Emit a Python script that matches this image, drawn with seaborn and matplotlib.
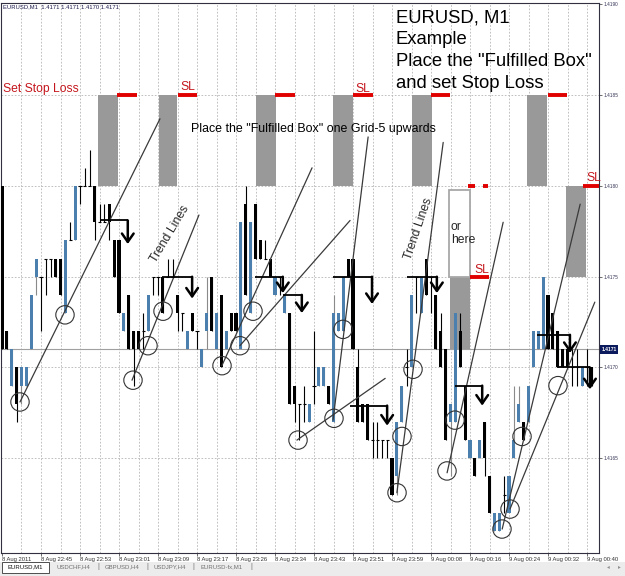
import numpy as np
import matplotlib
matplotlib.use("Agg")
import matplotlib.pyplot as plt
import matplotlib.transforms as mtransforms
from matplotlib.patches import Rectangle
import seaborn as sns

# EURUSD M1 candles, prices in points (price * 10000)
opens = [14180, 14172, 14169, 14170, 14169, 14169, 14171, 14175, 14175, 14176,
         14176, 14176, 14176, 14173, 14177, 14177, 14180, 14180, 14180, 14180,
         14178, 14178, 14179, 14177, 14177, 14172, 14174, 14172, 14172, 14172,
         14172, 14175, 14175, 14175, 14175, 14175, 14174, 14173, 14171, 14173,
         14172, 14170, 14172, 14175, 14171, 14174, 14171, 14173, 14173, 14171,
         14179, 14173, 14179, 14177, 14176, 14176, 14174, 14175, 14173, 14173,
         14169, 14168, 14168, 14167, 14169, 14169, 14169, 14169, 14167, 14172,
         14172, 14176, 14176, 14170, 14168, 14168, 14166, 14166, 14166, 14166,
         14165, 14164, 14167, 14170, 14170, 14175, 14173, 14176, 14175, 14174,
         14172, 14171, 14167, 14167, 14172, 14169, 14165, 14165, 14165, 14167,
         14164, 14161, 14161, 14163, 14162, 14165, 14167, 14167, 14167, 14170,
         14171, 14171, 14174, 14173, 14172, 14171, 14171, 14170, 14170, 14169,
         14170, 14170]
closes = [14171, 14171, 14171, 14168, 14170, 14170, 14174, 14176, 14175, 14176,
          14176, 14175, 14174, 14177, 14177, 14180, 14180, 14180, 14180, 14178,
          14178, 14178, 14178, 14175, 14173, 14173, 14171, 14171, 14171, 14172,
          14174, 14175, 14175, 14173, 14175, 14175, 14173, 14173, 14172, 14172,
          14172, 14171, 14173, 14172, 14173, 14170, 14172, 14172, 14172, 14178,
          14174, 14178, 14176, 14176, 14176, 14175, 14175, 14175, 14174, 14168,
          14168, 14168, 14168, 14168, 14169, 14170, 14170, 14168, 14173, 14173,
          14175, 14175, 14171, 14167, 14167, 14166, 14166, 14166, 14166, 14166,
          14163, 14167, 14169, 14170, 14174, 14175, 14175, 14174, 14175, 14171,
          14170, 14166, 14168, 14173, 14170, 14166, 14166, 14164, 14166, 14165,
          14162, 14162, 14162, 14163, 14164, 14166, 14168, 14166, 14169, 14172,
          14172, 14175, 14171, 14171, 14170, 14170, 14170, 14170, 14170, 14170,
          14170, 14169]
highs = [14180, 14172, 14171, 14170, 14170, 14170, 14174, 14176, 14175, 14176,
         14176, 14176, 14176, 14177, 14178, 14180, 14180, 14181, 14182, 14180,
         14179, 14179, 14179, 14177, 14177, 14173, 14174, 14172, 14172, 14173,
         14174, 14175, 14175, 14175, 14176, 14176, 14174, 14173, 14172, 14173,
         14172, 14171, 14175, 14175, 14173, 14174, 14172, 14173, 14173, 14178,
         14180, 14178, 14179, 14177, 14177, 14176, 14175, 14175, 14174, 14173,
         14169, 14168, 14169, 14168, 14172, 14170, 14170, 14169, 14174, 14173,
         14175, 14176, 14176, 14171, 14168, 14168, 14167, 14167, 14166, 14166,
         14165, 14167, 14169, 14171, 14174, 14175, 14175, 14176, 14175, 14174,
         14173, 14171, 14168, 14173, 14173, 14169, 14166, 14165, 14166, 14167,
         14164, 14162, 14162, 14164, 14164, 14169, 14169, 14167, 14169, 14172,
         14172, 14175, 14174, 14173, 14172, 14171, 14171, 14171, 14171, 14170,
         14171, 14170]
lows = [14171, 14171, 14169, 14167, 14168, 14169, 14171, 14174, 14172, 14174,
        14175, 14175, 14174, 14173, 14177, 14177, 14179, 14180, 14180, 14177,
        14178, 14178, 14177, 14175, 14173, 14172, 14171, 14169, 14171, 14171,
        14172, 14174, 14174, 14173, 14175, 14175, 14172, 14172, 14171, 14172,
        14171, 14170, 14171, 14172, 14171, 14170, 14171, 14172, 14172, 14171,
        14174, 14173, 14176, 14176, 14176, 14175, 14174, 14174, 14173, 14168,
        14167, 14166, 14167, 14167, 14168, 14169, 14169, 14168, 14167, 14172,
        14172, 14175, 14171, 14167, 14167, 14166, 14165, 14165, 14165, 14165,
        14163, 14163, 14167, 14169, 14170, 14173, 14173, 14174, 14173, 14171,
        14170, 14166, 14164, 14167, 14170, 14166, 14165, 14164, 14165, 14164,
        14162, 14161, 14161, 14162, 14162, 14165, 14167, 14166, 14167, 14170,
        14171, 14171, 14171, 14171, 14170, 14170, 14170, 14169, 14169, 14169,
        14169, 14169]

bid = 1.4171
price_ticks = [1.4165, 1.4170, 1.4175, 1.4180, 1.4185, 1.4190]
time_labels = ["8 Aug 2011", "8 Aug 22:45", "8 Aug 22:53", "8 Aug 23:01",
               "8 Aug 23:09", "8 Aug 23:17", "8 Aug 23:26", "8 Aug 23:34",
               "8 Aug 23:43", "8 Aug 23:51", "8 Aug 23:59", "9 Aug 00:08",
               "9 Aug 00:16", "9 Aug 00:24", "9 Aug 00:32", "9 Aug 00:40"]
tabs = ["EURUSD,M1", "USDCHF,H4", "GBPUSD,H4", "USDJPY,H4", "EURUSD-fx,M1"]

# annotations drawn on the chart (bar index, price)
boxes = [(19.7, 23.8, 1.4180, 1.4185), (32.2, 35.9, 1.4180, 1.4185),
         (52.1, 56.2, 1.4180, 1.4185), (67.9, 72.0, 1.4180, 1.4185),
         (84.1, 88.2, 1.4180, 1.4185), (107.7, 111.8, 1.4180, 1.4185),
         (115.7, 119.8, 1.4175, 1.4180), (91.9, 96.0, 1.4171, 1.4175)]
alt_box = (91.7, 96.0, 1.4175, 1.41798)
stop_losses = [(23.6, 27.6, 1.4185), (36.0, 40.0, 1.4185), (56.0, 60.0, 1.4185),
               (72.0, 76.0, 1.4185), (88.0, 91.8, 1.4185), (112.0, 115.8, 1.4185),
               (95.6, 97.0, 1.4180), (98.6, 99.7, 1.4180), (119.2, 122.4, 1.4180),
               (96.0, 99.8, 1.4175)]
trend_lines = [((3.69, 1.41681), (32.4, 1.41837)), ((26.67, 1.41693), (40.4, 1.41784)),
               ((45.1, 1.41701), (63.6, 1.41810)), ((48.8, 1.41712), (71.4, 1.41781)),
               ((67.9, 1.41671), (75.1, 1.41827)), ((60.5, 1.41660), (78.6, 1.41694)),
               ((81.0, 1.41631), (90.5, 1.41824)), ((91.3, 1.41642), (102.8, 1.41780)),
               ((102.6, 1.41611), (118.6, 1.41790)), ((104.2, 1.41622), (121.6, 1.41736))]
circles_x = [3.69, 12.92, 26.87, 29.95, 33.03, 45.13, 48.82, 51.49, 60.72, 68.10,
             69.95, 81.03, 82.05, 84.31, 91.28, 92.92, 102.56, 104.21, 106.67, 114.05]
circles_y = [1.41681, 1.41729, 1.41693, 1.41712, 1.41731, 1.41701, 1.41712, 1.41731,
             1.41660, 1.41672, 1.41721, 1.41631, 1.41662, 1.41699, 1.41643, 1.41671,
             1.41611, 1.41622, 1.41662, 1.41690]
hooks = [(20.1, 25.8, 1.41781, 1.41768), (32.8, 39.0, 1.41750, 1.41738),
         (51.9, 57.6, 1.41750, 1.41741), (57.6, 61.5, 1.41740, 1.41730),
         (67.9, 75.9, 1.41750, 1.41735), (83.1, 89.2, 1.41750, 1.41741),
         (71.4, 79.0, 1.41679, 1.41668), (92.9, 98.5, 1.41690, 1.41679),
         (109.7, 116.5, 1.41718, 1.41708), (113.8, 120.6, 1.41700, 1.41688)]

sns.set_theme(style="white")
plt.rcParams['font.family'] = ['Liberation Sans', 'DejaVu Sans']

fig = plt.figure(figsize=(6.25, 5.76), dpi=100)
ax = fig.add_axes([1 / 625, 23 / 576, 598 / 625, 550 / 576])
ax.set_facecolor('white')

o = np.array(opens) / 1e4
c = np.array(closes) / 1e4
h = np.array(highs) / 1e4
lo = np.array(lows) / 1e4
x = np.arange(len(o))
up = c > o
down = c < o
flat = c == o
blue = '#4a7fae'

# wicks
ax.vlines(x[up], lo[up], h[up], colors='#8a8a8a', lw=0.8, zorder=2)
ax.vlines(x[~up], lo[~up], h[~up], colors='black', lw=0.8, zorder=2)
# bodies
ax.bar(x[up], (c - o)[up], bottom=o[up], width=0.62, color=blue, lw=0, zorder=3)
ax.bar(x[down], (o - c)[down], bottom=c[down], width=0.62, color='black', lw=0, zorder=3)
ax.hlines(o[flat], x[flat] - 0.33, x[flat] + 0.33, colors='black', lw=0.8, zorder=3)

# fulfilled boxes
for b0, b1, p0, p1 in boxes:
    ax.add_patch(Rectangle((b0, p0), b1 - b0, p1 - p0, facecolor='#999999',
                           edgecolor='none', zorder=1))
b0, b1, p0, p1 = alt_box
ax.add_patch(Rectangle((b0, p0), b1 - b0, p1 - p0, facecolor='white',
                       edgecolor='#a8a8a8', lw=1.3, zorder=1))

# stop loss marks
for s0, s1, p in stop_losses:
    ax.plot([s0, s1], [p, p], color='#e00000', lw=2.8, solid_capstyle='butt', zorder=4)

# trend lines and touch circles
for (xa, ya), (xb, yb) in trend_lines:
    ax.plot([xa, xb], [ya, yb], color='#3a3a3a', lw=0.9, zorder=5)
ax.scatter(circles_x, circles_y, s=175, facecolors='none', edgecolors='#333333',
           linewidths=0.8, zorder=6)

# hook arrows
for xs, xe, lvl, tip in hooks:
    ax.plot([xs, xe], [lvl, lvl], color='black', lw=1.3, solid_capstyle='butt', zorder=7)
    ax.annotate('', xy=(xe, tip), xytext=(xe, lvl), zorder=7,
                arrowprops=dict(arrowstyle='->,head_length=0.5,head_width=0.35',
                                color='black', lw=1.8, shrinkA=0, shrinkB=0))

# bid line
ax.axhline(bid, color='#a0a0a0', lw=0.8, zorder=0.5)

# grid
for k in range(4, 123, 4):
    ax.axvline(k, color='#b5b5b5', lw=0.6, ls=(0, (2, 2)), zorder=0)
for p in price_ticks[:-1]:
    ax.axhline(p, color='#b5b5b5', lw=0.6, ls=(0, (2, 2)), zorder=0)

ax.set_xlim(-0.205, 122.46)
ax.set_ylim(1.415978, 1.419008)

# axes
ax.yaxis.tick_right()
ax.set_yticks(price_ticks)
ax.set_yticklabels([f"{p:.4f}" for p in price_ticks], fontsize=3.4, color='#333355')
ax.set_xticks(range(0, 121, 8))
ax.set_xticklabels(time_labels, fontsize=4.2, color='#222222', ha='left')
ax.tick_params(axis='both', length=2, width=0.5, pad=1, colors='#333333',
               direction='out', bottom=True, right=True)
for lab in ax.get_yticklabels():
    lab.set_color('#333355')
for side in ['left', 'right', 'top', 'bottom']:
    ax.spines[side].set_color('#303040')
    ax.spines[side].set_linewidth(0.8)

blend = mtransforms.blended_transform_factory(ax.transAxes, ax.transData)
ax.text(1.004, bid, f"{bid:.4f}", transform=blend, fontsize=3.6, color='white',
        fontweight='bold', va='center', ha='left', zorder=8,
        bbox=dict(boxstyle='square,pad=0.35', facecolor='#0b1a5c', edgecolor='none'))

# texts
red = '#c4161c'
ax.text(0.2, 1.41852, "Set Stop Loss", color=red, fontsize=8.7, va='baseline')
ax.text(36.5, 1.41853, "SL", color=red, fontsize=8.7, va='baseline')
ax.text(72.4, 1.41852, "SL", color=red, fontsize=8.7, va='baseline')
ax.text(119.8, 1.41803, "SL", color=red, fontsize=8.7, va='baseline')
ax.text(96.8, 1.41752, "SL", color=red, fontsize=8.7, va='baseline')
for line, yb in zip(["EURUSD, M1", "Example", "Place the \"Fulfilled Box\"",
                     "and set Stop Loss"], [1.41890, 1.41878, 1.41866, 1.41854]):
    ax.text(80.8, yb, line, fontsize=13.3, color='black', va='baseline')
ax.text(38.8, 1.41830, "Place the \"Fulfilled Box\" one Grid-5 upwards",
        fontsize=8.9, color='black', va='baseline')
ax.text(34.5, 1.417736, "Trend Lines", fontsize=8.8, rotation=59, ha='center',
        va='center', rotation_mode='anchor')
ax.text(85.5, 1.417763, "Trend Lines", fontsize=8.8, rotation=71, ha='center',
        va='center', rotation_mode='anchor')
ax.text(92.1, 1.417758, "or", fontsize=8.7, va='baseline')
ax.text(92.1, 1.417686, "here", fontsize=8.7, va='baseline')

fig.text(3 / 625, 1 - 7 / 576, "EURUSD,M1  1.4171 1.4171 1.4170 1.4171",
         fontsize=4.2, color='#1a1a4a', va='center', ha='left')

# terminal tab bar
fig.patches.append(Rectangle((0, 0), 1, 14 / 576, transform=fig.transFigure,
                             facecolor='#ececec', edgecolor='none', zorder=0))
fig.patches.append(Rectangle((2 / 625, 3 / 576), 47 / 625, 11 / 576,
                             transform=fig.transFigure, facecolor='white',
                             edgecolor='#333333', lw=0.6, zorder=1))
for name, xc in zip(tabs, [25, 73, 122, 170, 222]):
    fig.text(xc / 625, 9 / 576, name, fontsize=4.3, ha='center', va='center',
             color='#111111' if name == tabs[0] else '#707070')
for xs in [98, 147, 193, 251]:
    fig.text(xs / 625, 9 / 576, "|", fontsize=5, ha='center', va='center', color='#707070')
fig.text(608 / 625, 9 / 576, "\u25C2", fontsize=4, ha='center', va='center',
         color='#909090', family='DejaVu Sans')
fig.text(619 / 625, 9 / 576, "\u25B8", fontsize=4, ha='center', va='center',
         color='#909090', family='DejaVu Sans')

plt.savefig("out.png", dpi=100)
